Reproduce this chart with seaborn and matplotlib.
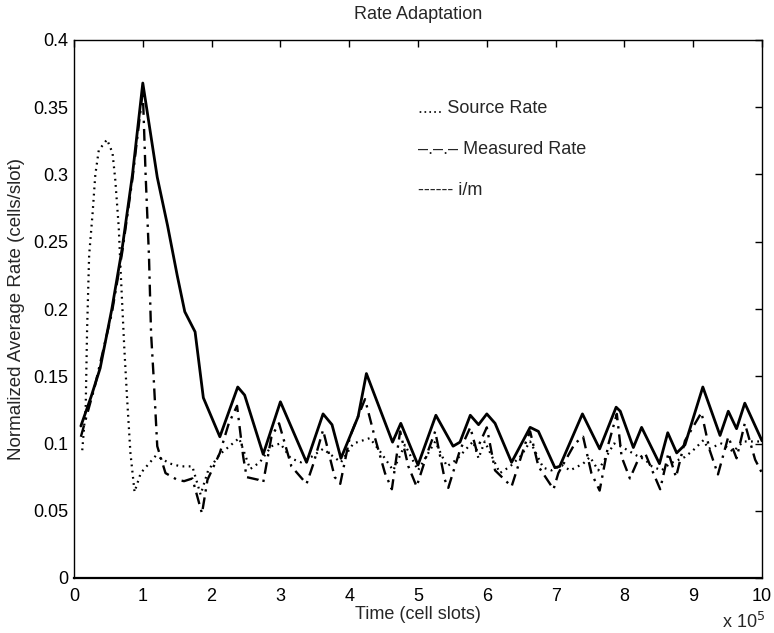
import numpy as np
import pandas as pd
import seaborn as sns
import matplotlib
matplotlib.use("Agg")
import matplotlib.pyplot as plt
from matplotlib.ticker import FormatStrFormatter, MultipleLocator

# time in units of 10^5 cell slots
source_x = [0.12, 0.17, 0.19, 0.22, 0.27, 0.31, 0.36, 0.48, 0.56, 0.6, 0.65, 0.68, 0.73, 0.77,
            0.82, 0.88, 0.97, 1.19, 1.4, 1.55, 1.72, 1.84, 1.95, 2.12, 2.4, 2.56, 2.7, 2.87,
            3.0, 3.15, 3.3, 3.45, 3.62, 3.75, 3.88, 4.06, 4.3, 4.45, 4.64, 4.81, 5.0, 5.25,
            5.42, 5.56, 5.8, 5.88, 5.97, 6.19, 6.34, 6.5, 6.63, 6.82, 6.94, 7.09, 7.21, 7.4,
            7.5, 7.62, 7.85, 7.98, 8.18, 8.3, 8.4, 8.54, 8.66, 8.88, 9.0, 9.15, 9.22, 9.41,
            9.58, 9.73, 10.0]
source_y = [0.095, 0.127, 0.184, 0.24, 0.271, 0.3, 0.318, 0.326, 0.316, 0.296, 0.261, 0.226, 0.172, 0.135,
            0.093, 0.064, 0.078, 0.091, 0.085, 0.083, 0.083, 0.062, 0.08, 0.092, 0.104, 0.081, 0.086, 0.098,
            0.1, 0.089, 0.086, 0.09, 0.096, 0.091, 0.086, 0.1, 0.104, 0.094, 0.08, 0.099, 0.08, 0.1015,
            0.083, 0.088, 0.1015, 0.089, 0.1015, 0.078, 0.083, 0.091, 0.1015, 0.082, 0.08, 0.084, 0.08, 0.085,
            0.09, 0.08, 0.1, 0.097, 0.091, 0.088, 0.083, 0.08, 0.085, 0.09, 0.095, 0.1025, 0.096, 0.1,
            0.094, 0.1015, 0.1015]

measured_x = [0.1, 0.3, 0.55, 0.7, 0.85, 1.0, 1.04, 1.09, 1.12, 1.16, 1.21, 1.33, 1.5, 1.6,
              1.72, 1.86, 1.94, 2.12, 2.25, 2.37, 2.46, 2.51, 2.68, 2.75, 2.87, 2.98, 3.16, 3.38,
              3.48, 3.62, 3.79, 3.87, 4.01, 4.23, 4.37, 4.52, 4.62, 4.74, 4.86, 4.98, 5.15, 5.25,
              5.39, 5.44, 5.61, 5.76, 5.85, 6.0, 6.12, 6.36, 6.56, 6.63, 6.75, 6.97, 7.04, 7.28,
              7.4, 7.52, 7.64, 7.77, 7.89, 7.96, 8.08, 8.2, 8.3, 8.42, 8.52, 8.64, 8.75, 8.88,
              9.12, 9.24, 9.36, 9.51, 9.63, 9.75, 9.9, 10.0]
measured_y = [0.105, 0.142, 0.197, 0.242, 0.297, 0.362, 0.301, 0.239, 0.182, 0.147, 0.098, 0.078, 0.073, 0.072,
              0.074, 0.048, 0.073, 0.093, 0.115, 0.128, 0.09, 0.075, 0.073, 0.071, 0.105, 0.115, 0.083, 0.07,
              0.085, 0.11, 0.075, 0.07, 0.105, 0.133, 0.105, 0.078, 0.066, 0.109, 0.083, 0.068, 0.095, 0.109,
              0.073, 0.067, 0.095, 0.112, 0.095, 0.112, 0.08, 0.068, 0.1, 0.109, 0.083, 0.066, 0.078, 0.1,
              0.105, 0.078, 0.065, 0.1, 0.122, 0.09, 0.074, 0.088, 0.093, 0.078, 0.066, 0.093, 0.075, 0.102,
              0.123, 0.095, 0.077, 0.105, 0.089, 0.115, 0.088, 0.078]

im_x = [0.1, 0.25, 0.38, 0.55, 0.7, 0.85, 1.0, 1.21, 1.36, 1.5, 1.61, 1.76, 1.88, 2.12,
        2.38, 2.48, 2.75, 3.0, 3.38, 3.62, 3.75, 3.88, 4.13, 4.25, 4.63, 4.75, 5.0, 5.26,
        5.51, 5.61, 5.76, 5.88, 6.0, 6.12, 6.36, 6.63, 6.75, 6.99, 7.06, 7.39, 7.64, 7.88,
        7.94, 8.13, 8.25, 8.51, 8.63, 8.76, 8.88, 9.14, 9.39, 9.51, 9.63, 9.75, 10.0]
im_y = [0.113, 0.135, 0.156, 0.2, 0.245, 0.3, 0.368, 0.298, 0.262, 0.225, 0.198, 0.183, 0.134, 0.105,
        0.142, 0.136, 0.092, 0.131, 0.086, 0.122, 0.114, 0.089, 0.12, 0.152, 0.101, 0.115, 0.084, 0.121,
        0.098, 0.101, 0.121, 0.114, 0.122, 0.115, 0.086, 0.112, 0.109, 0.082, 0.083, 0.122, 0.096, 0.127,
        0.124, 0.097, 0.112, 0.085, 0.108, 0.093, 0.099, 0.142, 0.106, 0.124, 0.111, 0.130, 0.102]

legend_text = ["..... Source Rate", "–.–.– Measured Rate", "------ i/m"]

sns.set_style("white")
plt.rcParams['font.family'] = ['Liberation Sans', 'DejaVu Sans']
plt.rcParams['font.size'] = 13

fig = plt.figure(figsize=(7.74, 6.33), dpi=100)
ax = fig.add_axes([74 / 774, 1 - 578 / 633, 688 / 774, 538 / 633])

sns.lineplot(x=source_x, y=source_y, ax=ax, color="black", lw=1.6,
             linestyle=(0, (0.8, 2.0)), estimator=None, sort=False)
sns.lineplot(x=measured_x, y=measured_y, ax=ax, color="black", lw=1.7,
             linestyle=(0, (5, 2.5, 1, 2.5)), estimator=None, sort=False)
sns.lineplot(x=im_x, y=im_y, ax=ax, color="black", lw=2.0, estimator=None, sort=False)

ax.set_xlim(0, 10)
ax.set_ylim(0, 0.4)
ax.xaxis.set_major_locator(MultipleLocator(1))
ax.yaxis.set_major_locator(MultipleLocator(0.05))
ax.yaxis.set_major_formatter(FormatStrFormatter('%g'))
ax.tick_params(direction='in', top=True, right=True, length=5, width=1,
               colors='black', labelsize=13, pad=4)
ax.tick_params(axis='x', pad=7)
for s in ax.spines.values():
    s.set_color('black')
    s.set_linewidth(1.0)
ax.spines['bottom'].set_linewidth(1.6)

ax.set_title("Rate Adaptation", fontsize=13, pad=15)
ax.set_xlabel("Time (cell slots)", fontsize=13, labelpad=1)
ax.set_ylabel("Normalized Average Rate (cells/slot)", fontsize=13.5, labelpad=6)

for i, t in enumerate(legend_text):
    ax.text(5.0, 0.349 - i * 0.0305, t, fontsize=13, va='center', ha='left')

fig.text(722 / 774, 1 - 622 / 633, r"x 10$^5$", fontsize=13, va='center', ha='left')

fig.savefig("out.png", dpi=100)
